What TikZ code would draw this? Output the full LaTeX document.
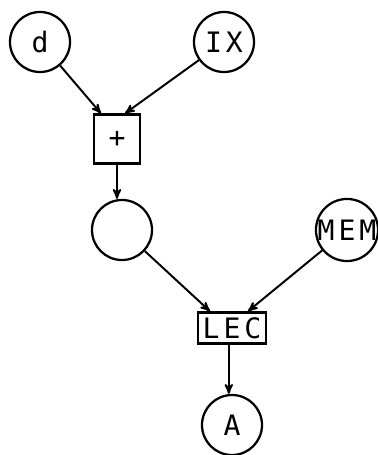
\documentclass[tikz,border=0pt]{standalone}
\usepackage{fontspec}
\usepackage{tikz}
\usetikzlibrary{positioning, arrows}
\newfontfamily\graphfont{DejaVu Sans Mono}[LetterSpace=14]

\tikzset{
  place/.style={circle, draw, line width=1.6pt, minimum size=1.5cm, inner sep=0pt},
  oper/.style={rectangle, draw, line width=1.6pt, inner sep=0pt},
  flow/.style={->, >=stealth', line width=1.4pt}
}

\begin{document}
\begin{tikzpicture}[x=0.025cm, y=-0.025cm, font=\graphfont\fontsize{20}{24}\selectfont]
\useasboundingbox (0,0) rectangle (377,455);
\node[place] (d) at (40,42) {d};
\node[place] (ix) at (224,42) {IX};
\node[oper, minimum width=1.15cm, minimum height=1.22cm] (plus) at (117,139) {+};
%
\node[place] (res) at (122,230) {};
\node[place] (mem) at (347,230) {MEM};
\node[oper, minimum width=1.7cm, minimum height=0.78cm] (lec) at (232,328) {LEC};
\node[place] (a) at (232,425) {A};
%
\draw[flow] (d) -- ([xshift=-0.4cm]plus.north);
\draw[flow] (ix) -- ([xshift=0.2cm]plus.north);
\draw[flow] (plus) -- (plus |- res.north);
\draw[flow] (res) -- ([xshift=-0.55cm]lec.north);
\draw[flow] (mem) -- ([xshift=0.4cm]lec.north);
\draw[flow] ([xshift=-0.08cm]lec.south) -- ([xshift=-0.08cm]a.north);
\end{tikzpicture}
\end{document}
